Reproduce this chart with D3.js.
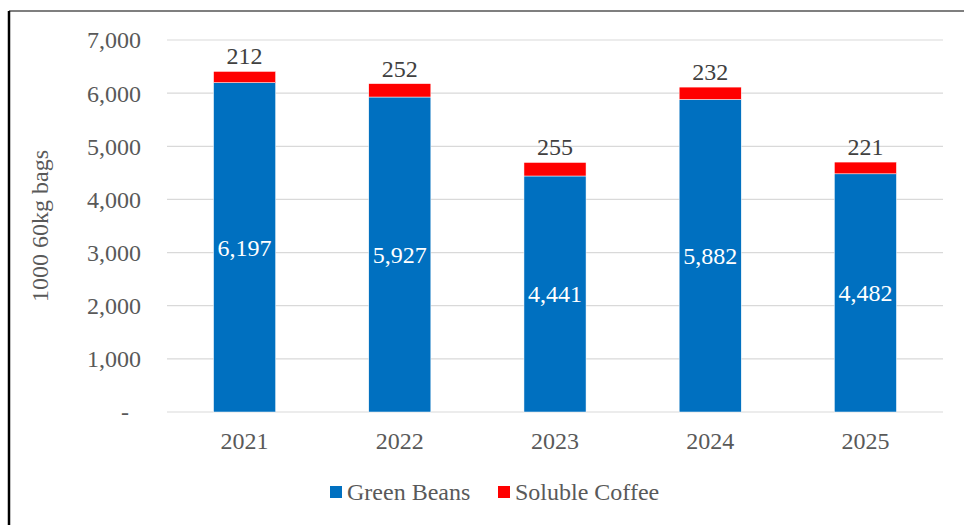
<!DOCTYPE html>
<html>
<head>
<meta charset="utf-8">
<script src="https://cdn.jsdelivr.net/npm/d3@7"></script>
<style>
  body { margin: 0; background: #fff; }
</style>
</head>
<body>
<svg width="964" height="525"></svg>
<script>
const years = ['2021', '2022', '2023', '2024', '2025'];
const greenBeans = [6197, 5927, 4441, 5882, 4482];
const solubleCoffee = [212, 252, 255, 232, 221];
const yTicks = [0, 1000, 2000, 3000, 4000, 5000, 6000, 7000];
const seriesNames = ['Green Beans', 'Soluble Coffee'];
const seriesColors = ['#0070C0', '#FF0000'];

const FONT = "'Liberation Serif', 'Times New Roman', Times, serif";

const svg = d3.select('svg')
    .style('display', 'block')
    .attr('font-family', FONT);

// frame (top + left only visible)
svg.append('line').attr('x1', 9).attr('x2', 964).attr('y1', 11).attr('y2', 11)
    .attr('stroke', '#000').attr('stroke-width', 1.2);
svg.append('line').attr('x1', 9).attr('x2', 9).attr('y1', 11).attr('y2', 525)
    .attr('stroke', '#000').attr('stroke-width', 2.5);

const plot = { left: 167, right: 943, top: 40, bottom: 412 };

const x = d3.scaleBand()
    .domain(years)
    .range([plot.left, plot.right])
    .paddingInner(0.6)
    .paddingOuter(0.3);

const y = d3.scaleLinear()
    .domain([0, 7000])
    .range([plot.bottom, plot.top]);

// gridlines
svg.append('g').selectAll('line')
    .data(yTicks)
    .enter()
    .append('line')
    .attr('x1', plot.left)
    .attr('x2', plot.right)
    .attr('y1', d => y(d))
    .attr('y2', d => y(d))
    .attr('stroke', '#d9d9d9')
    .attr('stroke-width', 1.2);

// y tick labels
const fmt = d3.format(',');
svg.append('g').selectAll('text')
    .data(yTicks)
    .enter()
    .append('text')
    .attr('x', 141)
    .attr('y', d => y(d))
    .attr('dy', '0.35em')
    .attr('text-anchor', d => d === 0 ? 'middle' : 'end')
    .attr('dx', d => d === 0 ? -16 : 0)
    .attr('fill', '#595959')
    .attr('font-family', FONT)
    .attr('font-size', 24)
    .text(d => d === 0 ? '-' : fmt(d));

// y axis title
svg.append('text')
    .attr('transform', `translate(40, ${(plot.top + plot.bottom) / 2}) rotate(-90)`)
    .attr('text-anchor', 'middle')
    .attr('dy', '0.35em')
    .attr('fill', '#595959')
    .attr('font-family', FONT)
    .attr('font-size', 24)
    .text('1000 60kg bags');

// x labels
svg.append('g').selectAll('text')
    .data(years)
    .enter()
    .append('text')
    .attr('x', d => x(d) + x.bandwidth() / 2)
    .attr('y', 449)
    .attr('text-anchor', 'middle')
    .attr('fill', '#595959')
    .attr('font-family', FONT)
    .attr('font-size', 24)
    .text(d => d);

// stacked bars
const rows = years.map((yr, i) => ({ year: yr, green: greenBeans[i], soluble: solubleCoffee[i] }));
const stack = d3.stack().keys(['green', 'soluble'])(rows);

svg.append('g').selectAll('g')
    .data(stack)
    .enter()
    .append('g')
    .attr('fill', (d, i) => seriesColors[i])
    .selectAll('rect')
    .data(d => d)
    .enter()
    .append('rect')
    .attr('x', d => x(d.data.year))
    .attr('y', d => y(d[1]))
    .attr('width', x.bandwidth())
    .attr('height', d => y(d[0]) - y(d[1]))
    .attr('stroke', '#fff')
    .attr('stroke-width', 0.5);

// green bean labels (inside, centered)
svg.append('g').selectAll('text')
    .data(rows)
    .enter()
    .append('text')
    .attr('x', d => x(d.year) + x.bandwidth() / 2)
    .attr('y', d => y(d.green / 2))
    .attr('dy', '0.35em')
    .attr('text-anchor', 'middle')
    .attr('fill', '#fff')
    .attr('font-family', FONT)
    .attr('font-size', 24)
    .text(d => fmt(d.green));

// soluble labels (above)
svg.append('g').selectAll('text')
    .data(rows)
    .enter()
    .append('text')
    .attr('x', d => x(d.year) + x.bandwidth() / 2)
    .attr('y', d => y(d.green + d.soluble) - 7)
    .attr('text-anchor', 'middle')
    .attr('fill', '#404040')
    .attr('font-family', FONT)
    .attr('font-size', 24)
    .text(d => d.soluble);

// legend
const legendX = [330, 498];
const legend = svg.append('g').selectAll('g')
    .data(seriesNames)
    .enter()
    .append('g')
    .attr('transform', (d, i) => `translate(${legendX[i]}, 492)`);
legend.append('rect')
    .attr('x', 0).attr('y', -6)
    .attr('width', 12).attr('height', 12)
    .attr('fill', (d, i) => seriesColors[i]);
legend.append('text')
    .attr('x', 17)
    .attr('dy', '0.35em')
    .attr('fill', '#595959')
    .attr('font-family', FONT)
    .attr('font-size', 24)
    .text(d => d);
</script>
</body>
</html>
